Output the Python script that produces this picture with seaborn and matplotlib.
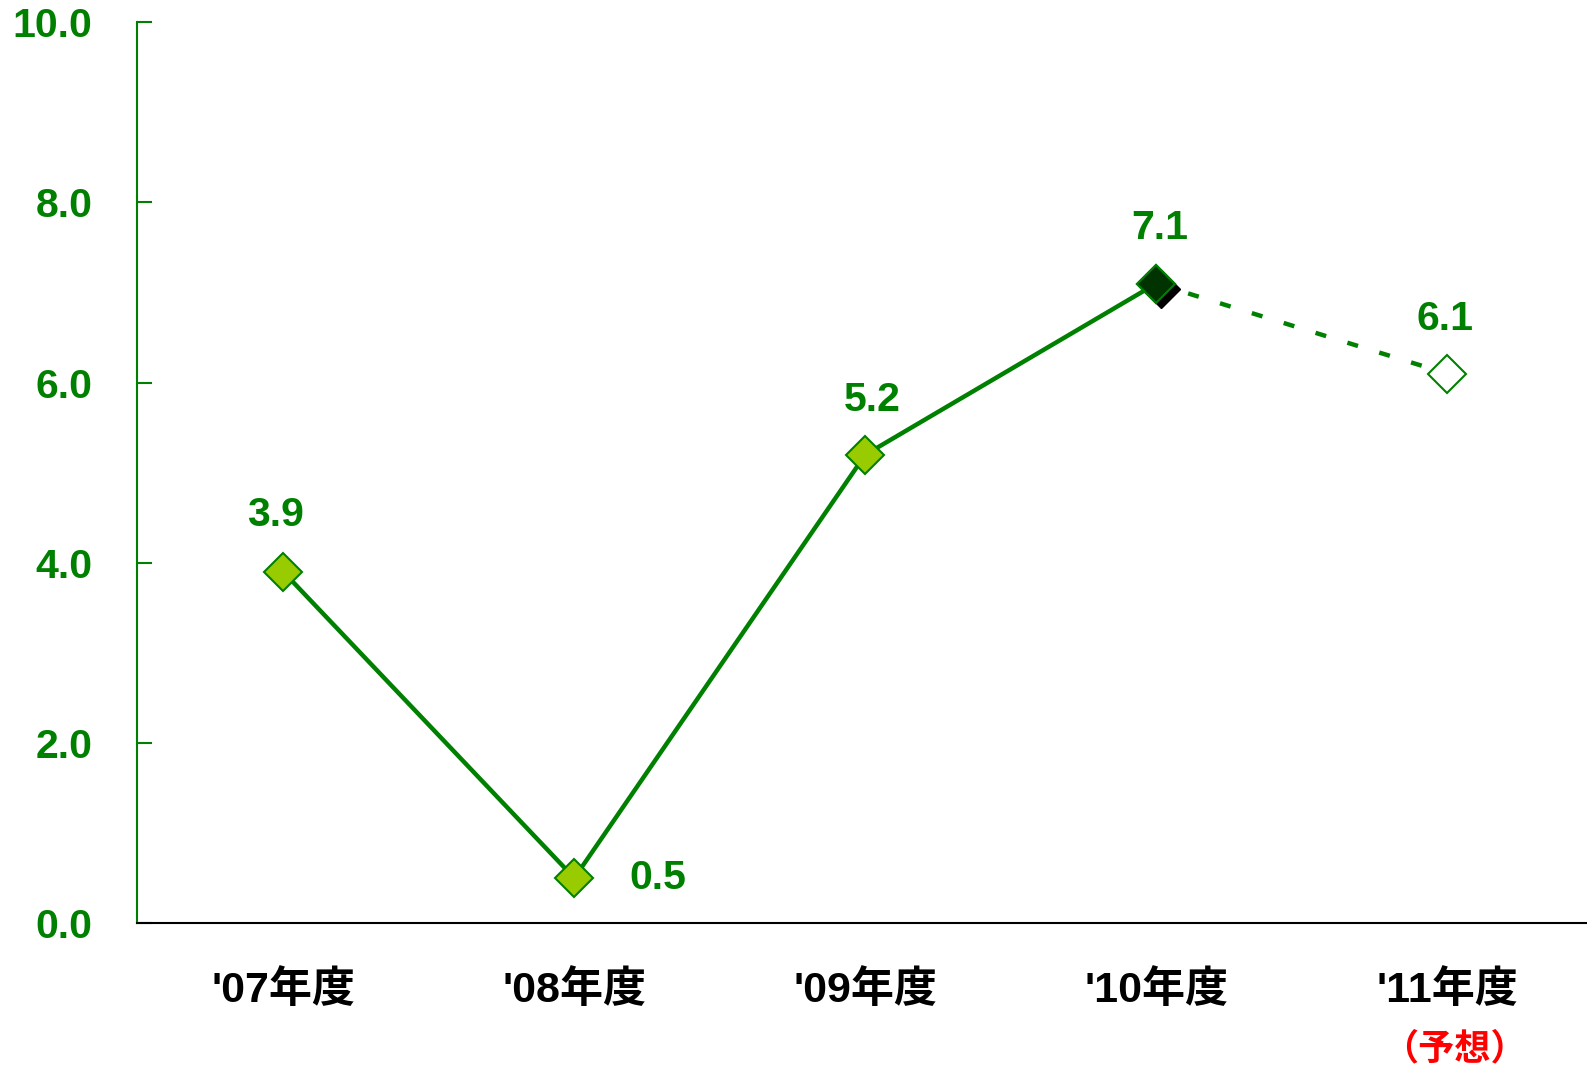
import matplotlib
matplotlib.use("Agg")
import matplotlib.pyplot as plt
import matplotlib.transforms as mtransforms
import seaborn as sns
import numpy as np

# data
years = ["'07年度", "'08年度", "'09年度", "'10年度", "'11年度"]
growth = [3.9, 0.5, 5.2, 7.1, 6.1]
label_text = ["3.9", "0.5", "5.2", "7.1", "6.1"]
forecast_note = "（予想）"

sns.set_style("white")
plt.rcParams["font.family"] = ["Liberation Sans", "Noto Sans CJK JP", "DejaVu Sans"]
plt.rcParams["font.weight"] = "bold"

green = "#008000"
light = "#99CC00"
ms = 19

fig = plt.figure(figsize=(15.87, 10.65), dpi=100)
ax = fig.add_axes([0.0861, 0.1333, 0.9139, 0.8457])

pos = np.arange(len(years))

# actual values (solid)
sns.lineplot(x=pos[:4], y=growth[:4], ax=ax, color=green, linewidth=3.2,
             marker="D", markersize=ms, markerfacecolor=light,
             markeredgecolor=green, markeredgewidth=1.5, zorder=3)
# forecast (dashed)
sns.lineplot(x=pos[3:], y=growth[3:], ax=ax, color=green, linewidth=3.2,
             linestyle=(0, (2.5, 5)), zorder=2)
ax.plot(pos[4], growth[4], marker="D", markersize=ms, markerfacecolor="white",
        markeredgecolor=green, markeredgewidth=1.5, linestyle="none", zorder=4)

# latest actual: dark marker with shadow
shadow = mtransforms.offset_copy(ax.transData, fig=fig, x=5, y=-5, units="dots")
ax.plot(pos[3], growth[3], marker="D", markersize=ms, color="black",
        linestyle="none", transform=shadow, zorder=4)
ax.plot(pos[3], growth[3], marker="D", markersize=ms, markerfacecolor="#003300",
        markeredgecolor=green, markeredgewidth=1.5, linestyle="none", zorder=5)

# data labels
offsets = [(-8, 57), (84, 0), (7, 55), (3, 56), (-2, 55)]
for x, y, t, off in zip(pos, growth, label_text, offsets):
    ax.annotate(t, (x, y), xytext=off, textcoords="offset pixels",
                ha="center", va="center", color=green, fontsize=29.5,
                fontweight="bold")

ax.set_xlim(-0.504, 4.48)
ax.set_ylim(0, 10)
ax.set_yticks(np.arange(0, 11, 2))
ax.set_yticklabels([f"{v:.1f}" for v in np.arange(0, 11, 2)])
ax.set_xticks(pos)
ax.set_xticklabels(years)

ax.tick_params(axis="y", left=True, direction="in", length=11, width=1.5,
               color=green, labelcolor=green, labelsize=29.5, pad=32)
ax.tick_params(axis="x", bottom=False, length=0, labelcolor="black",
               labelsize=31, pad=34)
for lab in ax.get_xticklabels() + ax.get_yticklabels():
    lab.set_fontweight("bold")

for s in ["top", "right"]:
    ax.spines[s].set_visible(False)
ax.spines["left"].set_color(green)
ax.spines["left"].set_linewidth(1.5)
ax.spines["bottom"].set_color("black")
ax.spines["bottom"].set_linewidth(1.5)

note_tf = mtransforms.blended_transform_factory(ax.transData, fig.transFigure)
ax.text(pos[4] + 0.025, 1 - 1050 / 1065, forecast_note, transform=note_tf,
        ha="center", va="center", color="red", fontsize=26, fontweight="bold")

fig.savefig("out.png", dpi=100)
